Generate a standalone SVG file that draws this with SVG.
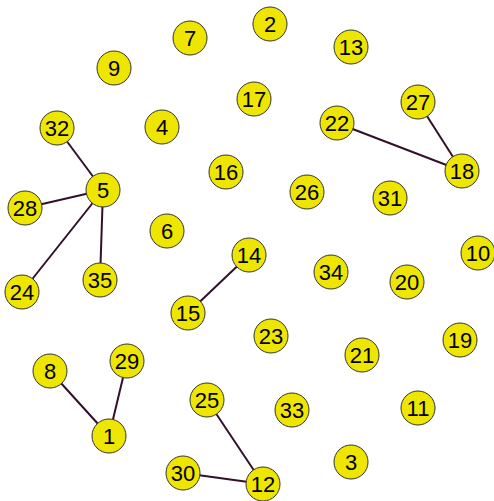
<svg xmlns="http://www.w3.org/2000/svg" width="494" height="501" viewBox="0 0 494 501">
<style>
.n circle{fill:#EEE600;stroke:#333;stroke-width:1}
.n text{font-family:"Liberation Sans",Arial,sans-serif;font-size:22px;fill:#000;text-anchor:middle;dominant-baseline:central}
#edges line{stroke:#33102A;stroke-width:2}
</style>
<rect width="494" height="501" fill="#fff"/>
<g id="edges">
<line x1="57" y1="128" x2="103" y2="190"/>
<line x1="25" y1="208" x2="103" y2="190"/>
<line x1="22" y1="292" x2="103" y2="190"/>
<line x1="100" y1="280" x2="103" y2="190"/>
<line x1="337" y1="123" x2="462" y2="171"/>
<line x1="418" y1="102" x2="462" y2="171"/>
<line x1="249" y1="255" x2="188" y2="313"/>
<line x1="50" y1="371" x2="109" y2="436"/>
<line x1="127" y1="361" x2="109" y2="436"/>
<line x1="207" y1="400" x2="263" y2="484"/>
<line x1="183" y1="473" x2="263" y2="484"/>
</g>
<g id="n7" class="n"><circle cx="190" cy="38" r="17"/><text x="190" y="38">7</text></g>
<g id="n2" class="n"><circle cx="270" cy="24" r="17"/><text x="270" y="24">2</text></g>
<g id="n13" class="n"><circle cx="351" cy="47" r="17"/><text x="351" y="47">13</text></g>
<g id="n9" class="n"><circle cx="114" cy="68" r="17"/><text x="114" y="68">9</text></g>
<g id="n17" class="n"><circle cx="254" cy="99" r="17"/><text x="254" y="99">17</text></g>
<g id="n27" class="n"><circle cx="418" cy="102" r="17"/><text x="418" y="102">27</text></g>
<g id="n32" class="n"><circle cx="57" cy="128" r="17"/><text x="57" y="128">32</text></g>
<g id="n4" class="n"><circle cx="162" cy="127" r="17"/><text x="162" y="127">4</text></g>
<g id="n22" class="n"><circle cx="337" cy="123" r="17"/><text x="337" y="123">22</text></g>
<g id="n18" class="n"><circle cx="462" cy="171" r="17"/><text x="462" y="171">18</text></g>
<g id="n16" class="n"><circle cx="226" cy="172" r="17"/><text x="226" y="172">16</text></g>
<g id="n26" class="n"><circle cx="307" cy="192" r="17"/><text x="307" y="192">26</text></g>
<g id="n31" class="n"><circle cx="390" cy="198" r="17"/><text x="390" y="198">31</text></g>
<g id="n5" class="n"><circle cx="103" cy="190" r="17"/><text x="103" y="190">5</text></g>
<g id="n28" class="n"><circle cx="25" cy="208" r="17"/><text x="25" y="208">28</text></g>
<g id="n6" class="n"><circle cx="167" cy="231" r="17"/><text x="167" y="231">6</text></g>
<g id="n10" class="n"><circle cx="478" cy="253" r="17"/><text x="478" y="253">10</text></g>
<g id="n14" class="n"><circle cx="249" cy="255" r="17"/><text x="249" y="255">14</text></g>
<g id="n34" class="n"><circle cx="331" cy="272" r="17"/><text x="331" y="272">34</text></g>
<g id="n20" class="n"><circle cx="407" cy="282" r="17"/><text x="407" y="282">20</text></g>
<g id="n24" class="n"><circle cx="22" cy="292" r="17"/><text x="22" y="292">24</text></g>
<g id="n35" class="n"><circle cx="100" cy="280" r="17"/><text x="100" y="280">35</text></g>
<g id="n15" class="n"><circle cx="188" cy="313" r="17"/><text x="188" y="313">15</text></g>
<g id="n23" class="n"><circle cx="271" cy="336" r="17"/><text x="271" y="336">23</text></g>
<g id="n21" class="n"><circle cx="362" cy="355" r="17"/><text x="362" y="355">21</text></g>
<g id="n19" class="n"><circle cx="460" cy="340" r="17"/><text x="460" y="340">19</text></g>
<g id="n8" class="n"><circle cx="50" cy="371" r="17"/><text x="50" y="371">8</text></g>
<g id="n29" class="n"><circle cx="127" cy="361" r="17"/><text x="127" y="361">29</text></g>
<g id="n25" class="n"><circle cx="207" cy="400" r="17"/><text x="207" y="400">25</text></g>
<g id="n33" class="n"><circle cx="292" cy="410" r="17"/><text x="292" y="410">33</text></g>
<g id="n11" class="n"><circle cx="418" cy="408" r="17"/><text x="418" y="408">11</text></g>
<g id="n1" class="n"><circle cx="109" cy="436" r="17"/><text x="109" y="436">1</text></g>
<g id="n3" class="n"><circle cx="351" cy="462" r="17"/><text x="351" y="462">3</text></g>
<g id="n30" class="n"><circle cx="183" cy="473" r="17"/><text x="183" y="473">30</text></g>
<g id="n12" class="n"><circle cx="263" cy="484" r="17"/><text x="263" y="484">12</text></g>
</svg>
